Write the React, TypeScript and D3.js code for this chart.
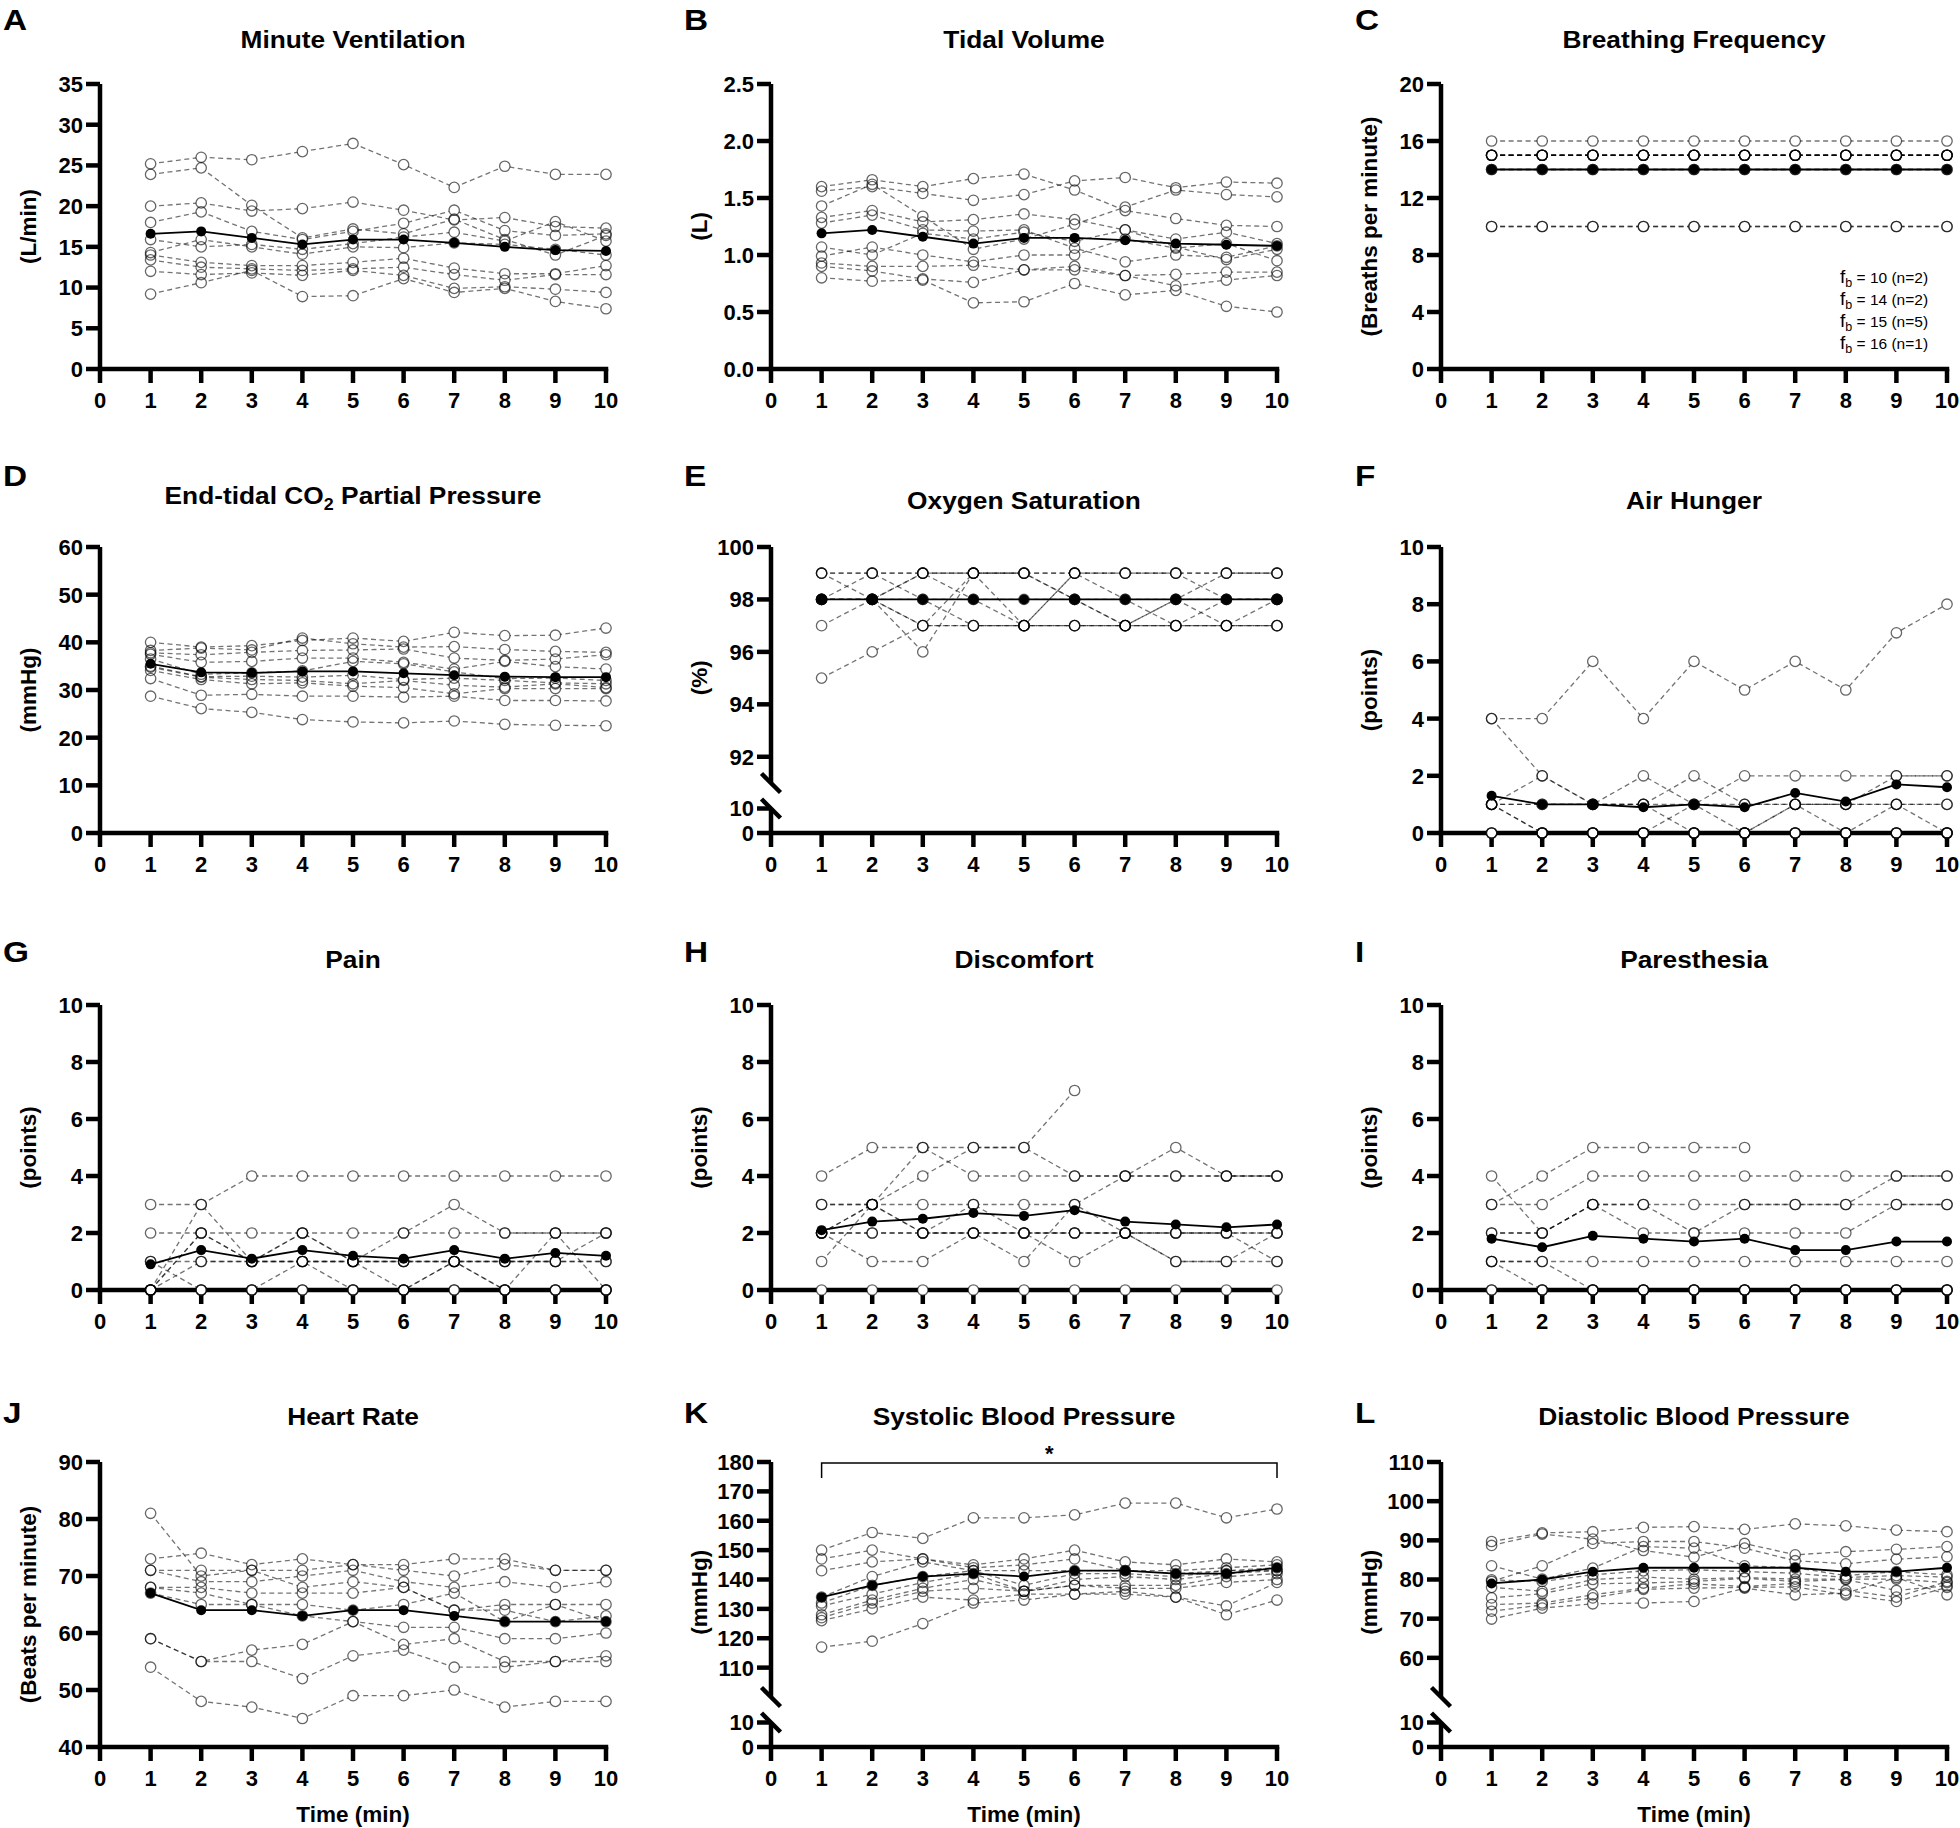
import React from 'react';
import * as d3 from 'd3';

// ---------- shared ----------
const timePoints = [1, 2, 3, 4, 5, 6, 7, 8, 9, 10];
const xTickValues = [0, 1, 2, 3, 4, 5, 6, 7, 8, 9, 10];

// ---------- A: Minute Ventilation (L/min) ----------
const minuteVentilation = [
  [25.2, 26.0, 25.7, 26.7, 27.7, 25.1, 22.3, 24.9, 23.9, 23.9],
  [23.9, 24.7, 20.1, 16.1, 17.2, 16.6, 18.4, 15.9, 14.0, 16.4],
  [20.0, 20.4, 19.4, 19.7, 20.5, 19.5, 18.3, 18.6, 17.5, 17.3],
  [18.0, 19.3, 16.9, 15.9, 16.9, 17.9, 19.5, 17.0, 16.4, 16.6],
  [15.9, 15.0, 15.3, 14.7, 15.4, 16.2, 16.8, 15.7, 18.1, 15.7],
  [14.3, 15.9, 15.0, 14.1, 15.0, 14.9, 15.5, 15.3, 14.7, 14.0],
  [14.0, 13.1, 12.7, 12.7, 13.1, 13.6, 12.4, 11.7, 11.7, 12.7],
  [13.4, 12.5, 12.3, 12.1, 12.3, 12.5, 11.6, 10.9, 11.6, 11.6],
  [12.0, 11.6, 11.8, 11.5, 12.1, 11.5, 9.9, 10.1, 9.8, 9.4],
  [9.2, 10.6, 12.1, 8.9, 9.0, 11.1, 9.4, 9.9, 8.3, 7.4],
];
const minuteVentilationMean = [16.6, 16.9, 16.1, 15.3, 15.9, 15.9, 15.5, 15.0, 14.6, 14.5];
const minuteVentilationTicks = [0, 5, 10, 15, 20, 25, 30, 35];

// ---------- B: Tidal Volume (L) ----------
const tidalVolume = [
  [1.60, 1.66, 1.60, 1.67, 1.71, 1.57, 1.39, 1.32, 1.26, 1.25],
  [1.56, 1.60, 1.54, 1.48, 1.53, 1.65, 1.68, 1.59, 1.64, 1.63],
  [1.43, 1.62, 1.34, 1.05, 1.14, 1.27, 1.42, 1.57, 1.53, 1.51],
  [1.33, 1.39, 1.29, 1.31, 1.36, 1.31, 1.22, 1.14, 1.20, 1.10],
  [1.28, 1.35, 1.22, 1.21, 1.22, 1.06, 0.94, 1.00, 0.98, 1.08],
  [1.07, 1.00, 1.19, 1.14, 1.20, 1.12, 1.22, 1.07, 0.96, 1.05],
  [0.99, 1.07, 1.00, 0.94, 1.00, 1.00, 1.14, 1.06, 1.10, 0.95],
  [0.93, 0.90, 0.90, 0.91, 0.87, 0.90, 0.82, 0.83, 0.85, 0.85],
  [0.90, 0.86, 0.79, 0.76, 0.87, 0.87, 0.82, 0.73, 0.78, 0.82],
  [0.80, 0.77, 0.78, 0.58, 0.59, 0.75, 0.65, 0.69, 0.55, 0.50],
];
const tidalVolumeMean = [1.19, 1.22, 1.16, 1.10, 1.15, 1.15, 1.13, 1.10, 1.09, 1.08];
const tidalVolumeTicks = [0, 0.5, 1.0, 1.5, 2.0, 2.5];

// ---------- C: Breathing Frequency ----------
const breathingFrequency = [
  [10, 10, 10, 10, 10, 10, 10, 10, 10, 10],
  [10, 10, 10, 10, 10, 10, 10, 10, 10, 10],
  [14, 14, 14, 14, 14, 14, 14, 14, 14, 14],
  [14, 14, 14, 14, 14, 14, 14, 14, 14, 14],
  [15, 15, 15, 15, 15, 15, 15, 15, 15, 15],
  [15, 15, 15, 15, 15, 15, 15, 15, 15, 15],
  [15, 15, 15, 15, 15, 15, 15, 15, 15, 15],
  [15, 15, 15, 15, 15, 15, 15, 15, 15, 15],
  [15, 15, 15, 15, 15, 15, 15, 15, 15, 15],
  [16, 16, 16, 16, 16, 16, 16, 16, 16, 16],
];
const breathingFrequencyMean = [14, 14, 14, 14, 14, 14, 14, 14, 14, 14];
const breathingFrequencyTicks = [0, 4, 8, 12, 16, 20];
const legendRates = ['10', '14', '15', '16'];
const legendCounts = ['2', '2', '5', '1'];

// ---------- D: End-tidal CO2 (mmHg) ----------
const endTidalCO2 = [
  [40.0, 39.0, 39.3, 40.4, 40.9, 40.2, 42.1, 41.4, 41.5, 43.0],
  [38.3, 38.8, 38.4, 40.9, 39.7, 39.0, 39.1, 38.5, 38.1, 37.9],
  [37.8, 37.4, 37.9, 38.3, 38.4, 38.6, 36.7, 36.2, 36.5, 37.4],
  [37.5, 35.8, 36.0, 36.7, 36.7, 35.8, 34.4, 36.0, 34.9, 34.4],
  [36.5, 33.3, 33.6, 34.0, 36.0, 35.5, 33.8, 32.4, 32.5, 32.0],
  [35.0, 32.8, 32.9, 32.7, 33.1, 32.2, 32.5, 32.0, 31.5, 31.3],
  [34.8, 32.7, 32.2, 32.0, 31.3, 32.0, 31.0, 30.6, 31.3, 30.5],
  [34.1, 32.2, 31.3, 31.5, 30.8, 30.5, 29.2, 30.3, 30.3, 30.3],
  [32.4, 28.9, 29.1, 28.7, 28.7, 28.5, 28.7, 27.8, 27.8, 27.7],
  [28.7, 26.1, 25.3, 23.8, 23.3, 23.1, 23.5, 22.8, 22.6, 22.5],
];
const endTidalCO2Mean = [35.5, 33.7, 33.6, 33.9, 33.9, 33.5, 33.1, 32.8, 32.7, 32.7];
const endTidalCO2Ticks = [0, 10, 20, 30, 40, 50, 60];

// ---------- E: Oxygen Saturation (%) ----------
const oxygenSaturation = [
  [99, 99, 99, 99, 99, 99, 99, 99, 99, 99],
  [99, 99, 99, 99, 99, 99, 99, 99, 99, 99],
  [98, 99, 98, 97, 97, 97, 97, 97, 97, 97],
  [97, 98, 99, 99, 99, 98, 97, 98, 99, 99],
  [95, 96, 97, 99, 97, 99, 99, 99, 98, 98],
  [98, 98, 96, 99, 99, 98, 97, 97, 97, 98],
  [98, 98, 98, 98, 98, 98, 98, 98, 98, 98],
  [98, 98, 97, 97, 97, 97, 97, 97, 97, 97],
  [99, 98, 97, 97, 97, 97, 97, 98, 97, 97],
  [98, 98, 99, 98, 97, 99, 98, 97, 98, 98],
];
const oxygenSaturationMean = [98, 98, 98, 98, 98, 98, 98, 98, 98, 98];
const oxygenSaturationUpperTicks = [92, 94, 96, 98, 100];
const oxygenSaturationLowerTicks = [0, 10];

// ---------- F: Air Hunger (points) ----------
const airHunger = [
  [4, 4, 6, 4, 6, 5, 6, 5, 7, 8],
  [4, 2, 1, 1, 0, 0, 1, 0, 1, 0],
  [1, 2, 1, 2, 1, 0, 1, 1, 2, 2],
  [1, 0, 0, 0, 1, 2, 2, 2, 2, 2],
  [1, 1, 1, 1, 2, 1, 1, 1, 1, 1],
  [1, 1, 1, 1, 1, 1, 1, 1, 1, 1],
  [0, 0, 0, 0, 0, 0, 0, 0, 0, 0],
  [0, 0, 0, 0, 0, 0, 0, 0, 0, 0],
  [1, 0, 0, 0, 0, 0, 0, 0, 0, 0],
  [0, 0, 0, 0, 0, 0, 0, 0, 0, 0],
];
const airHungerMean = [1.3, 1.0, 1.0, 0.9, 1.0, 0.9, 1.4, 1.1, 1.7, 1.6];
const pointsTicks = [0, 2, 4, 6, 8, 10];

// ---------- G: Pain (points) ----------
const pain = [
  [3, 3, 4, 4, 4, 4, 4, 4, 4, 4],
  [0, 3, 1, 1, 1, 1, 1, 1, 1, 1],
  [2, 2, 2, 2, 2, 2, 2, 2, 2, 2],
  [0, 2, 1, 1, 1, 0, 1, 1, 1, 1],
  [1, 0, 0, 1, 0, 0, 1, 0, 2, 0],
  [1, 1, 1, 2, 1, 2, 3, 2, 2, 2],
  [0, 1, 1, 1, 1, 1, 1, 1, 1, 2],
  [0, 0, 0, 0, 0, 0, 0, 0, 0, 0],
  [0, 0, 0, 0, 0, 0, 0, 0, 0, 0],
  [0, 2, 1, 2, 1, 1, 1, 0, 0, 0],
];
const painMean = [0.9, 1.4, 1.1, 1.4, 1.2, 1.1, 1.4, 1.1, 1.3, 1.2];

// ---------- H: Discomfort (points) ----------
const discomfort: (number | null)[][] = [
  [4, 5, 5, 5, 5, 4, 4, 5, 4, 4],
  [2, 3, 5, 4, 4, 4, 4, 4, 4, 4],
  [1, 3, 4, 5, 5, 7, null, null, null, null],
  [3, 3, 3, 3, 3, 3, 4, 4, 4, 4],
  [3, 3, 2, 2, 2, 2, 2, 1, 1, 1],
  [2, 1, 1, 2, 2, 2, 2, 2, 2, 2],
  [2, 2, 2, 3, 2, 1, 2, 2, 2, 2],
  [2, 3, 2, 2, 1, 3, 2, 1, 1, 2],
  [0, 0, 0, 0, 0, 0, 0, 0, 0, 0],
  [2, 2, 2, 2, 2, 2, 2, 2, 2, 1],
];
const discomfortMean = [2.1, 2.4, 2.5, 2.7, 2.6, 2.8, 2.4, 2.3, 2.2, 2.3];

// ---------- I: Paresthesia (points) ----------
const paresthesia: (number | null)[][] = [
  [3, 4, 5, 5, 5, 5, null, null, null, null],
  [3, 3, 4, 4, 4, 4, 4, 4, 4, 4],
  [4, 2, 3, 3, 2, 3, 3, 3, 4, 4],
  [2, 2, 3, 3, 3, 3, 3, 3, 3, 3],
  [2, 2, 3, 2, 2, 2, 2, 2, 3, 3],
  [1, 1, 1, 1, 1, 1, 1, 1, 1, 1],
  [1, 0, 0, 0, 0, 0, 0, 0, 0, 0],
  [1, 1, 0, 0, 0, 0, 0, 0, 0, 0],
  [0, 0, 0, 0, 0, 0, 0, 0, 0, 0],
  [0, 0, 0, 0, 0, 0, 0, 0, 0, 0],
];
const paresthesiaMean = [1.8, 1.5, 1.9, 1.8, 1.7, 1.8, 1.4, 1.4, 1.7, 1.7];

// ---------- J: Heart Rate ----------
const heartRate = [
  [73, 74, 72, 73, 72, 72, 73, 73, 71, 71],
  [71, 71, 71, 71, 72, 71, 70, 72, 71, 71],
  [71, 69, 69, 70, 71, 69, 68, 69, 68, 69],
  [81, 70, 71, 68, 69, 68, 64, 65, 65, 65],
  [68, 68, 67, 67, 67, 68, 64, 64, 62, 63],
  [68, 67, 65, 65, 64, 65, 67, 62, 65, 62],
  [67, 65, 65, 63, 62, 61, 61, 59, 59, 60],
  [59, 55, 57, 58, 62, 58, 59, 55, 55, 56],
  [59, 55, 55, 52, 56, 57, 54, 54, 55, 55],
  [54, 48, 47, 45, 49, 49, 50, 47, 48, 48],
];
const heartRateMean = [67, 64, 64, 63, 64, 64, 63, 62, 62, 62];
const heartRateTicks = [40, 50, 60, 70, 80, 90];

// ---------- K: Systolic Blood Pressure ----------
const systolicBP = [
  [150, 156, 154, 161, 161, 162, 166, 166, 161, 164],
  [147, 150, 147, 145, 147, 150, 146, 145, 147, 146],
  [143, 146, 147, 144, 145, 147, 143, 143, 144, 145],
  [134, 141, 146, 143, 143, 143, 143, 142, 143, 144],
  [132, 138, 141, 143, 138, 142, 142, 141, 143, 143],
  [131, 135, 139, 142, 136, 140, 141, 140, 142, 143],
  [128, 133, 137, 140, 136, 138, 138, 138, 141, 142],
  [127, 132, 136, 137, 136, 138, 137, 137, 139, 140],
  [126, 130, 134, 133, 135, 135, 136, 134, 131, 139],
  [117, 119, 125, 132, 133, 135, 135, 134, 128, 133],
];
const systolicBPMean = [134, 138, 141, 142, 141, 143, 143, 142, 142, 144];
const systolicUpperTicks = [110, 120, 130, 140, 150, 160, 170, 180];
const bpLowerTicks = [0, 10];

// ---------- L: Diastolic Blood Pressure ----------
const diastolicBP = [
  [89.7, 91.9, 92.2, 93.3, 93.5, 92.8, 94.2, 93.7, 92.6, 92.2],
  [88.7, 91.6, 90.3, 87.4, 85.7, 89.2, 86.3, 87.1, 87.7, 88.4],
  [79.5, 83.5, 89.2, 89.7, 89.7, 88.0, 84.8, 84.0, 85.2, 85.8],
  [83.5, 80.1, 82.9, 88.4, 88.0, 83.5, 83.0, 81.0, 82.0, 81.2],
  [79.9, 79.5, 81.2, 82.2, 82.5, 82.0, 81.6, 80.5, 81.0, 80.6],
  [78.0, 77.0, 80.0, 80.6, 80.1, 80.5, 80.1, 80.1, 80.1, 79.2],
  [75.3, 76.4, 78.9, 79.1, 79.5, 80.3, 79.5, 80.0, 77.2, 78.4],
  [73.6, 74.0, 76.1, 77.8, 78.9, 78.2, 79.0, 77.2, 75.5, 79.5],
  [71.9, 73.5, 75.3, 77.5, 77.8, 78.0, 78.1, 76.1, 74.4, 78.0],
  [69.9, 72.7, 73.8, 74.0, 74.4, 77.8, 76.1, 76.5, 80.5, 76.1],
];
const diastolicBPMean = [79, 80, 82, 83, 83, 83, 83, 82, 82, 83];
const diastolicUpperTicks = [60, 70, 80, 90, 100, 110];

// ---------- layout ----------
const W = 1960;
const H = 1828;
const COL_X0 = [100, 771, 1441];
const PLOT_W = 506;
const ROWS = [
  { top: 84, bottom: 369, title: 48, letter: 30 },
  { top: 547, bottom: 833, title: 509, letter: 486 },
  { top: 1005, bottom: 1290, title: 968, letter: 962 },
  { top: 1462, bottom: 1747, title: 1425, letter: 1423 },
];
const LETTER_X = [3, 684, 1355];
const FONT = '"Liberation Sans", Arial, Helvetica, sans-serif';
const AXIS_W = 4.5;
const TICK_L = 14;

type Brk = { upper: [number, number]; upperTicks: number[]; lowerTicks: number[] };
type Cfg = {
  letter: string;
  title: string;
  yLabel: string;
  col: number;
  row: number;
  domain?: [number, number];
  ticks?: number[];
  brk?: Brk;
  fmt?: (v: number) => string;
  subjects: (number | null)[][];
  mean: number[];
  xLabel?: boolean;
  extra?: string;
};

const panels: Cfg[] = [
  { letter: 'A', title: 'Minute Ventilation', yLabel: '(L/min)', col: 0, row: 0, domain: [0, 35], ticks: minuteVentilationTicks, subjects: minuteVentilation, mean: minuteVentilationMean },
  { letter: 'B', title: 'Tidal Volume', yLabel: '(L)', col: 1, row: 0, domain: [0, 2.5], ticks: tidalVolumeTicks, fmt: d3.format('.1f'), subjects: tidalVolume, mean: tidalVolumeMean },
  { letter: 'C', title: 'Breathing Frequency', yLabel: '(Breaths per minute)', col: 2, row: 0, domain: [0, 20], ticks: breathingFrequencyTicks, subjects: breathingFrequency, mean: breathingFrequencyMean, extra: 'legend' },
  { letter: 'D', title: 'CO2', yLabel: '(mmHg)', col: 0, row: 1, domain: [0, 60], ticks: endTidalCO2Ticks, subjects: endTidalCO2, mean: endTidalCO2Mean },
  { letter: 'E', title: 'Oxygen Saturation', yLabel: '(%)', col: 1, row: 1, brk: { upper: [91, 100], upperTicks: oxygenSaturationUpperTicks, lowerTicks: oxygenSaturationLowerTicks }, subjects: oxygenSaturation, mean: oxygenSaturationMean },
  { letter: 'F', title: 'Air Hunger', yLabel: '(points)', col: 2, row: 1, domain: [0, 10], ticks: pointsTicks, subjects: airHunger, mean: airHungerMean },
  { letter: 'G', title: 'Pain', yLabel: '(points)', col: 0, row: 2, domain: [0, 10], ticks: pointsTicks, subjects: pain, mean: painMean },
  { letter: 'H', title: 'Discomfort', yLabel: '(points)', col: 1, row: 2, domain: [0, 10], ticks: pointsTicks, subjects: discomfort, mean: discomfortMean },
  { letter: 'I', title: 'Paresthesia', yLabel: '(points)', col: 2, row: 2, domain: [0, 10], ticks: pointsTicks, subjects: paresthesia, mean: paresthesiaMean },
  { letter: 'J', title: 'Heart Rate', yLabel: '(Beats per minute)', col: 0, row: 3, domain: [40, 90], ticks: heartRateTicks, subjects: heartRate, mean: heartRateMean, xLabel: true },
  { letter: 'K', title: 'Systolic Blood Pressure', yLabel: '(mmHg)', col: 1, row: 3, brk: { upper: [100, 180], upperTicks: systolicUpperTicks, lowerTicks: bpLowerTicks }, subjects: systolicBP, mean: systolicBPMean, xLabel: true, extra: 'bracket' },
  { letter: 'L', title: 'Diastolic Blood Pressure', yLabel: '(mmHg)', col: 2, row: 3, brk: { upper: [50, 110], upperTicks: diastolicUpperTicks, lowerTicks: bpLowerTicks }, subjects: diastolicBP, mean: diastolicBPMean, xLabel: true },
];

function Panel({ cfg }: { cfg: Cfg }) {
  const x0 = COL_X0[cfg.col];
  const row = ROWS[cfg.row];
  const { top, bottom } = row;
  const x = d3.scaleLinear().domain([0, 10]).range([x0, x0 + PLOT_W]);
  let y: (v: number) => number;
  let yTicks: number[];
  let lowerTop = 0;
  let upperBottom = 0;
  if (cfg.brk) {
    upperBottom = bottom - 50;
    lowerTop = bottom - 24.5;
    const up = d3.scaleLinear().domain(cfg.brk.upper).range([upperBottom, top]);
    const lo = d3.scaleLinear().domain([0, 10]).range([bottom, lowerTop]);
    const lowUp = cfg.brk.upper[0];
    y = (v: number) => (v >= lowUp ? up(v) : lo(v));
    yTicks = [...cfg.brk.lowerTicks, ...cfg.brk.upperTicks];
  } else {
    const s = d3.scaleLinear().domain(cfg.domain!).range([bottom, top]);
    y = (v: number) => s(v);
    yTicks = cfg.ticks!;
  }
  const fmt = cfg.fmt || ((v: number) => String(v));
  const line = d3
    .line<number | null>()
    .defined((d) => d != null)
    .x((_, i) => x(timePoints[i]))
    .y((d) => y(d as number));
  const cx = x0 + PLOT_W / 2;
  const yLabelCy = cfg.brk ? (top + lowerTop) / 2 : (top + bottom) / 2;
  const ax = x(0);
  const pts: { px: number; py: number }[] = [];
  cfg.subjects.forEach((s) =>
    s.forEach((v, i) => {
      if (v != null) pts.push({ px: x(timePoints[i]), py: y(v) });
    })
  );
  const subStroke = 'rgba(0,0,0,0.55)';

  return (
    <g>
      {/* panel letter */}
      <text
        transform={`translate(${LETTER_X[cfg.col]},${row.letter}) scale(1.15,1)`}
        fontSize={29}
        fontWeight="bold"
        fontFamily={FONT}
      >
        {cfg.letter}
      </text>
      {/* title */}
      {cfg.title === 'CO2' ? (
        <text
          transform={`translate(${cx},${row.title - 5}) scale(1.12,1)`}
          textAnchor="middle"
          fontSize={23.5}
          fontWeight="bold"
          fontFamily={FONT}
        >
          End-tidal CO
          <tspan fontSize={16} dy={6}>2</tspan>
          <tspan dy={-6}> Partial Pressure</tspan>
        </text>
      ) : (
        <text
          transform={`translate(${cx},${row.title}) scale(1.12,1)`}
          textAnchor="middle"
          fontSize={23.5}
          fontWeight="bold"
          fontFamily={FONT}
        >
          {cfg.title}
        </text>
      )}
      {/* y label */}
      <text
        transform={`translate(${ax - 72},${yLabelCy}) rotate(-90)`}
        textAnchor="middle"
        dy="0.35em"
        fontSize={22.5}
        fontWeight="bold"
        fontFamily={FONT}
      >
        {cfg.yLabel}
      </text>

      {/* axes */}
      <g stroke="#000" strokeWidth={AXIS_W} fill="none">
        {cfg.brk ? (
          <>
            <line x1={ax} x2={ax} y1={top} y2={upperBottom} />
            <line x1={ax} x2={ax} y1={lowerTop} y2={bottom} />
            <line x1={ax - 9.5} x2={ax + 9.5} y1={upperBottom - 9.5} y2={upperBottom + 9.5} />
            <line x1={ax - 9.5} x2={ax + 9.5} y1={lowerTop - 9.5} y2={lowerTop + 9.5} />
          </>
        ) : (
          <line x1={ax} x2={ax} y1={top} y2={bottom} />
        )}
        <line x1={ax - AXIS_W / 2} x2={x(10) + AXIS_W / 2} y1={bottom} y2={bottom} />
        {yTicks.map((t) => (
          <line key={'yt' + t} x1={ax - TICK_L} x2={ax} y1={y(t)} y2={y(t)} />
        ))}
        {xTickValues.map((t) => (
          <line key={'xt' + t} x1={x(t)} x2={x(t)} y1={bottom} y2={bottom + TICK_L} />
        ))}
      </g>
      {/* tick labels */}
      <g fontFamily={FONT} fontWeight="bold" fontSize={22}>
        {yTicks.map((t) => (
          <text key={'yl' + t} x={ax - 17} y={y(t)} dy="0.36em" textAnchor="end">
            {fmt(t)}
          </text>
        ))}
        {xTickValues.map((t) => (
          <text key={'xl' + t} x={x(t)} y={bottom + 39} textAnchor="middle">
            {t}
          </text>
        ))}
      </g>
      {cfg.xLabel && (
        <text x={cx} y={bottom + 75} textAnchor="middle" fontSize={22.5} fontWeight="bold" fontFamily={FONT}>
          Time (min)
        </text>
      )}

      {/* subject lines */}
      <g fill="none" stroke={subStroke} strokeWidth={1.3} strokeDasharray="5 3.5">
        {cfg.subjects.map((s, i) => (
          <path key={'sl' + i} d={line(s) || ''} />
        ))}
      </g>
      {/* subject markers: fill pass then stroke pass */}
      <g fill="#fff" stroke="none">
        {pts.map((p, i) => (
          <circle key={'pf' + i} cx={p.px} cy={p.py} r={5.2} />
        ))}
      </g>
      <g fill="none" stroke="rgba(0,0,0,0.6)" strokeWidth={1.3}>
        {pts.map((p, i) => (
          <circle key={'ps' + i} cx={p.px} cy={p.py} r={5.2} />
        ))}
      </g>
      {/* mean */}
      <path d={line(cfg.mean) || ''} fill="none" stroke="#000" strokeWidth={1.8} />
      <g fill="#000">
        {cfg.mean.map((v, i) => (
          <circle key={'m' + i} cx={x(timePoints[i])} cy={y(v)} r={5} />
        ))}
      </g>

      {cfg.extra === 'legend' && (
        <g fontFamily={FONT} fill="#000">
          {legendRates.map((r, i) => (
            <text key={'lg' + i} x={1840} y={283 + i * 22} fontSize={15.5}>
              <tspan fontSize={19}>f</tspan>
              <tspan fontSize={12.5} dy={4}>b</tspan>
              <tspan dy={-4}>{` = ${r} (n=${legendCounts[i]})`}</tspan>
            </text>
          ))}
        </g>
      )}
      {cfg.extra === 'bracket' && (
        <g>
          <path
            d={`M${x(1)},${top + 16}V${top + 1}H${x(10)}V${top + 16}`}
            fill="none"
            stroke="#000"
            strokeWidth={1.5}
          />
          <text x={(x(1) + x(10)) / 2} y={top - 1} textAnchor="middle" fontSize={22} fontWeight="bold" fontFamily={FONT}>
            *
          </text>
        </g>
      )}
    </g>
  );
}

export default function App() {
  return (
    <svg
      width={W}
      height={H}
      viewBox={`0 0 ${W} ${H}`}
      style={{ position: 'absolute', left: 0, top: 0, background: '#fff' }}
    >
      <rect x={0} y={0} width={W} height={H} fill="#fff" />
      {panels.map((p) => (
        <Panel key={p.letter} cfg={p} />
      ))}
    </svg>
  );
}
